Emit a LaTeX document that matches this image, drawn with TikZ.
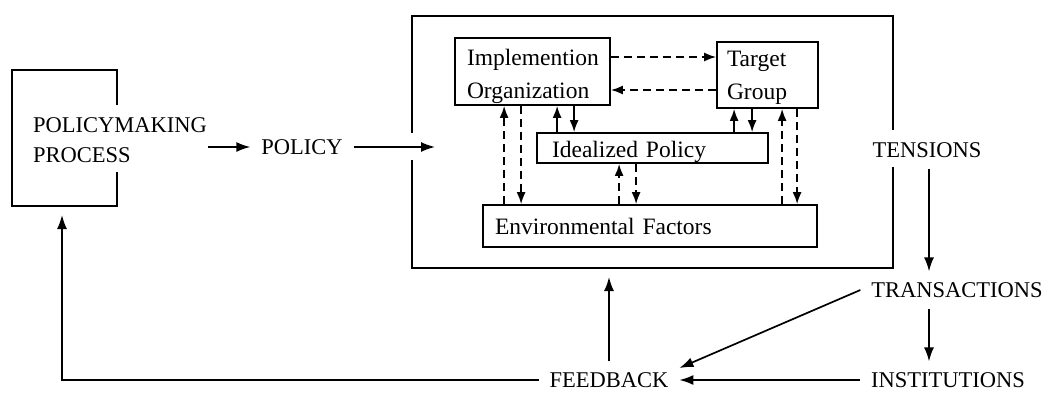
\documentclass[tikz,border=0pt]{standalone}
\usepackage{fontspec}
\setmainfont{Liberation Serif}
\usetikzlibrary{arrows.meta,calc}
\begin{document}
\begin{tikzpicture}[x=1pt,y=-1pt,
  capfont/.style={font=\fontsize{22.5}{30}\selectfont},
  lowfont/.style={font=\fontsize{23.5}{33}\selectfont},
  frame/.style={line width=1.8pt},
  inbox/.style={draw,line width=1.8pt,inner ysep=0pt,align=left,lowfont},
  lbl/.style={inner sep=0pt,outer sep=11pt,capfont},
  arr/.style={line width=1.7pt,-{Latex[length=14pt,width=10pt]}},
  darr/.style={line width=1.6pt,dash pattern=on 8pt off 5pt,-{Latex[length=12pt,width=9pt]}},
  sarr/.style={line width=1.6pt,-{Latex[length=12pt,width=9pt]}},
]
\useasboundingbox (0,0) rectangle (1050,392);

% policymaking frame
\draw[frame] (117,105) -- (117,70) -- (12,70) -- (12,206) -- (117,206) -- (117,172);
\node[capfont,inner sep=0pt,align=left,anchor=west] (pm) at (33,140) {POLICYMAKING\\PROCESS};
\coordinate (pmout) at (208,147);
\node[lbl] (policy) at (302,147) {POLICY};
\coordinate (bin) at (435,147);
\draw[arr] (pmout) -- (policy.west);
\draw[arr] (policy.east) -- (bin);

% big frame
\draw[frame] (412,133) -- (412,16) -- (893,16) -- (893,130);
\draw[frame] (893,167) -- (893,268) -- (412,268) -- (412,160);

% inner boxes
\node[inbox,inner xsep=12pt,text width=131pt,minimum height=67pt] (io) at (532.5,71.5) {\rule{0pt}{27pt}Implemention\\Organization};
\node[inbox,inner xsep=10pt,text width=81pt,minimum height=66pt] (tg) at (767.5,75) {\rule{0pt}{21pt}Target\\Group};
\node[inbox,inner xsep=15pt,text width=201pt,minimum height=30pt] (ip) at (652.5,148) {\rule{0pt}{25pt}Idealized Policy};
\node[inbox,inner xsep=12pt,text width=310pt,minimum height=42pt] (env) at (650,226) {Environmental Factors};

% horizontal dashed arrows
\coordinate (h1) at ([yshift=14.5pt]io.east);
\coordinate (h2) at ([yshift=-18.5pt]io.east);
\draw[darr] (h1) -- (h1 -| tg.west);
\draw[darr] (h2 -| tg.west) -- (h2);

% vertical arrows
\coordinate (v1) at ([xshift=50pt]io.south west);
\coordinate (v2) at ([xshift=67pt]io.south west);
\coordinate (v3) at ([xshift=103pt]io.south west);
\coordinate (v4) at ([xshift=120pt]io.south west);
\coordinate (v5) at ([xshift=18pt]tg.south west);
\coordinate (v6) at ([xshift=36pt]tg.south west);
\coordinate (v7) at ([xshift=66pt]tg.south west);
\coordinate (v8) at ([xshift=81pt]tg.south west);
\coordinate (v9) at ([xshift=83pt]ip.south west);
\coordinate (v10) at ([xshift=100pt]ip.south west);
\draw[darr] (v1 |- env.north) -- (v1);
\draw[darr] (v2) -- (v2 |- env.north);
\draw[sarr] (v3 |- ip.north) -- (v3);
\draw[sarr] (v4) -- (v4 |- ip.north);
\draw[sarr] (v5 |- ip.north) -- (v5);
\draw[sarr] (v6) -- (v6 |- ip.north);
\draw[darr] (v7 |- env.north) -- (v7);
\draw[darr] (v8) -- (v8 |- env.north);
\draw[darr] (v9 |- env.north) -- (v9);
\draw[darr] (v10) -- (v10 |- env.north);

% right side
\node[lbl] (tens) at (927,150) {TENSIONS};
\node[lbl] (trans) at (957,290) {TRANSACTIONS};
\node[lbl] (inst) at (948,380) {INSTITUTIONS};
\node[lbl] (fb) at (609,380) {FEEDBACK};

\coordinate (ta) at ([xshift=2pt]tens.south);
\draw[arr] (ta) -- (ta |- trans.north);
\coordinate (tb) at (ta |- trans.south);
\draw[arr] (tb) -- (tb |- inst.north);
\draw[arr] (trans.west) -- ([yshift=12pt]fb.east);
\draw[arr] (inst.west) -- (inst.west -| fb.east);
\coordinate (fbt) at (610,277);
\draw[arr] (fb.north) -- (fb.north |- fbt);
\coordinate (pmin) at (62,215);
\draw[arr] (fb.west) -| (pmin);
\end{tikzpicture}
\end{document}
